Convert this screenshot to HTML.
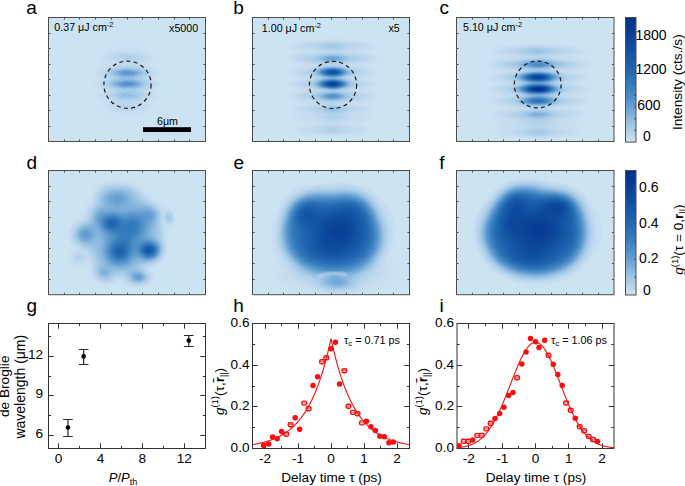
<!DOCTYPE html>
<html><head><meta charset="utf-8"><style>
html,body{margin:0;padding:0;background:#fff;width:685px;height:486px;overflow:hidden}
svg{display:block}
text{font-family:"Liberation Sans",sans-serif;fill:#000}
</style></head><body>
<svg width="685" height="486" viewBox="0 0 685 486">
<defs><filter id="nz" filterUnits="userSpaceOnUse" x="48" y="17" width="158" height="125" color-interpolation-filters="sRGB"><feTurbulence type="fractalNoise" baseFrequency="0.7" numOctaves="2" seed="7"/><feColorMatrix type="matrix" values="0 0 0 0 1  0 0 0 0 1  0 0 0 0 1  2.2 0 0 0 -1.1"/></filter><radialGradient id="gw"><stop offset="0" stop-color="#fff" stop-opacity="1.0000"/><stop offset="0.05" stop-color="#fff" stop-opacity="0.9888"/><stop offset="0.1" stop-color="#fff" stop-opacity="0.9560"/><stop offset="0.15" stop-color="#fff" stop-opacity="0.9037"/><stop offset="0.2" stop-color="#fff" stop-opacity="0.8353"/><stop offset="0.25" stop-color="#fff" stop-opacity="0.7548"/><stop offset="0.3" stop-color="#fff" stop-opacity="0.6670"/><stop offset="0.35" stop-color="#fff" stop-opacity="0.5762"/><stop offset="0.4" stop-color="#fff" stop-opacity="0.4868"/><stop offset="0.45" stop-color="#fff" stop-opacity="0.4020"/><stop offset="0.5" stop-color="#fff" stop-opacity="0.3247"/><stop offset="0.55" stop-color="#fff" stop-opacity="0.2563"/><stop offset="0.6" stop-color="#fff" stop-opacity="0.1979"/><stop offset="0.65" stop-color="#fff" stop-opacity="0.1494"/><stop offset="0.7" stop-color="#fff" stop-opacity="0.1103"/><stop offset="0.75" stop-color="#fff" stop-opacity="0.0796"/><stop offset="0.8" stop-color="#fff" stop-opacity="0.0561"/><stop offset="0.85" stop-color="#fff" stop-opacity="0.0387"/><stop offset="0.9" stop-color="#fff" stop-opacity="0.0261"/><stop offset="0.95" stop-color="#fff" stop-opacity="0.0172"/><stop offset="1" stop-color="#fff" stop-opacity="0.0000"/></radialGradient><radialGradient id="gk"><stop offset="0" stop-color="#000" stop-opacity="1.0000"/><stop offset="0.05" stop-color="#000" stop-opacity="0.9888"/><stop offset="0.1" stop-color="#000" stop-opacity="0.9560"/><stop offset="0.15" stop-color="#000" stop-opacity="0.9037"/><stop offset="0.2" stop-color="#000" stop-opacity="0.8353"/><stop offset="0.25" stop-color="#000" stop-opacity="0.7548"/><stop offset="0.3" stop-color="#000" stop-opacity="0.6670"/><stop offset="0.35" stop-color="#000" stop-opacity="0.5762"/><stop offset="0.4" stop-color="#000" stop-opacity="0.4868"/><stop offset="0.45" stop-color="#000" stop-opacity="0.4020"/><stop offset="0.5" stop-color="#000" stop-opacity="0.3247"/><stop offset="0.55" stop-color="#000" stop-opacity="0.2563"/><stop offset="0.6" stop-color="#000" stop-opacity="0.1979"/><stop offset="0.65" stop-color="#000" stop-opacity="0.1494"/><stop offset="0.7" stop-color="#000" stop-opacity="0.1103"/><stop offset="0.75" stop-color="#000" stop-opacity="0.0796"/><stop offset="0.8" stop-color="#000" stop-opacity="0.0561"/><stop offset="0.85" stop-color="#000" stop-opacity="0.0387"/><stop offset="0.9" stop-color="#000" stop-opacity="0.0261"/><stop offset="0.95" stop-color="#000" stop-opacity="0.0172"/><stop offset="1" stop-color="#000" stop-opacity="0.0000"/></radialGradient><filter id="cm" filterUnits="userSpaceOnUse" x="0" y="0" width="685" height="486" color-interpolation-filters="sRGB"><feComponentTransfer><feFuncR type="table" tableValues="0.93 0.9 0.86 0.83 0.8 0.77 0.73 0.69 0.66 0.62 0.58 0.54 0.49 0.45 0.41 0.37 0.34 0.31 0.28 0.25 0.22 0.2 0.18 0.16 0.15 0.13 0.11 0.1 0.09 0.08 0.07 0.06 0.05 0.05 0.04 0.04 0.03 0.02 0.02 0.01 0.01"/><feFuncG type="table" tableValues="0.96 0.94 0.92 0.9 0.89 0.86 0.84 0.82 0.8 0.78 0.75 0.72 0.69 0.66 0.63 0.6 0.58 0.56 0.54 0.52 0.49 0.48 0.46 0.44 0.42 0.4 0.39 0.37 0.36 0.34 0.33 0.31 0.29 0.28 0.27 0.25 0.24 0.23 0.21 0.2 0.19"/><feFuncB type="table" tableValues="0.98 0.97 0.96 0.95 0.95 0.94 0.93 0.92 0.91 0.9 0.89 0.87 0.86 0.84 0.83 0.81 0.8 0.79 0.77 0.76 0.75 0.74 0.73 0.71 0.7 0.69 0.68 0.67 0.66 0.65 0.64 0.63 0.62 0.61 0.6 0.59 0.58 0.57 0.57 0.56 0.55"/></feComponentTransfer></filter><linearGradient id="cb" x1="0" y1="0" x2="0" y2="1"><stop offset="0" stop-color="#02308c"/><stop offset="0.2" stop-color="#0c489b"/><stop offset="0.4" stop-color="#1e64af"/><stop offset="0.55" stop-color="#377dbe"/><stop offset="0.7" stop-color="#5f9bd0"/><stop offset="0.85" stop-color="#9bc4e4"/><stop offset="1" stop-color="#cde2f1"/></linearGradient><mask id="nzm" maskUnits="userSpaceOnUse" x="48" y="17" width="158" height="125"><ellipse cx="127.5" cy="82" rx="36" ry="42" fill="url(#gw)"/></mask><clipPath id="cla"><rect x="48.5" y="17.5" width="157" height="124"/></clipPath><clipPath id="clb"><rect x="252.5" y="17.5" width="157" height="124"/></clipPath><clipPath id="clc"><rect x="456.5" y="17.5" width="157.5" height="124"/></clipPath><clipPath id="cld"><rect x="48.5" y="170.5" width="157" height="124.2"/></clipPath><clipPath id="cle"><rect x="252.5" y="170.5" width="157" height="124.2"/></clipPath><clipPath id="clf"><rect x="456.5" y="170.5" width="157.5" height="124.2"/></clipPath><clipPath id="cc252"><rect x="252.5" y="323.5" width="157" height="125"/></clipPath><clipPath id="cc457"><rect x="457" y="323.5" width="157" height="125"/></clipPath><filter id="bl1_2" x="-50%" y="-50%" width="200%" height="200%"><feGaussianBlur stdDeviation="1.2"/></filter><filter id="bl1_5" x="-50%" y="-50%" width="200%" height="200%"><feGaussianBlur stdDeviation="1.5"/></filter><filter id="bl4" x="-50%" y="-50%" width="200%" height="200%"><feGaussianBlur stdDeviation="4"/></filter><filter id="bl6_5" x="-50%" y="-50%" width="200%" height="200%"><feGaussianBlur stdDeviation="6.5"/></filter><filter id="bl7" x="-50%" y="-50%" width="200%" height="200%"><feGaussianBlur stdDeviation="7"/></filter></defs>
<g clip-path="url(#cla)"><g filter="url(#cm)">
<rect x="43.5" y="12.5" width="167" height="134" fill="rgb(25,25,25)"/>
<ellipse cx="127.5" cy="82" rx="39" ry="51" fill="url(#gw)" opacity="0.05"/>
<ellipse cx="127.5" cy="57" rx="36" ry="9.3" fill="url(#gw)" opacity="0.07"/>
<ellipse cx="127.5" cy="72.9" rx="36" ry="9.3" fill="url(#gw)" opacity="0.28"/>
<ellipse cx="127.5" cy="84" rx="36" ry="9.3" fill="url(#gw)" opacity="0.3"/>
<ellipse cx="127.5" cy="95.5" rx="36" ry="9.3" fill="url(#gw)" opacity="0.13"/>
<ellipse cx="127.5" cy="107" rx="36" ry="9.3" fill="url(#gw)" opacity="0.05"/>
<rect x="48" y="17" width="158" height="125" filter="url(#nz)" opacity="0.025"/>
<rect x="48" y="17" width="158" height="125" filter="url(#nz)" opacity="0.16" mask="url(#nzm)"/>
</g></g>
<path d="M64.5 17.5v2M64.5 141.5v-2M79.5 17.5v2M79.5 141.5v-2M95.5 17.5v2M95.5 141.5v-2M111.5 17.5v2M111.5 141.5v-2M127.5 17.5v2M127.5 141.5v-2M142.5 17.5v2M142.5 141.5v-2M158.5 17.5v2M158.5 141.5v-2M174.5 17.5v2M174.5 141.5v-2M189.5 17.5v2M189.5 141.5v-2M48.5 126.5h2M205.5 126.5h-2M48.5 110.5h2M205.5 110.5h-2M48.5 95.5h2M205.5 95.5h-2M48.5 79.5h2M205.5 79.5h-2M48.5 64.5h2M205.5 64.5h-2M48.5 48.5h2M205.5 48.5h-2M48.5 33.5h2M205.5 33.5h-2" stroke="#4d4d4d" stroke-width="1.0" fill="none"/>
<rect x="48.5" y="17.5" width="157" height="124" fill="none" stroke="#4d4d4d" stroke-width="1.0"/>
<circle cx="127.5" cy="84.7" r="23.6" fill="none" stroke="#1a1a1a" stroke-width="1.2" stroke-dasharray="4 3.3"/>
<g clip-path="url(#clb)"><g filter="url(#cm)">
<rect x="247.5" y="12.5" width="167" height="134" fill="rgb(25,25,25)"/>
<ellipse cx="332.5" cy="46.3" rx="54" ry="10.2" fill="url(#gw)" opacity="0.09"/>
<ellipse cx="304.5" cy="46.3" rx="24" ry="9.6" fill="url(#gw)" opacity="0.02"/>
<ellipse cx="360.5" cy="46.3" rx="24" ry="9.6" fill="url(#gw)" opacity="0.02"/>
<ellipse cx="332.5" cy="46.3" rx="24.6" ry="8.7" fill="url(#gw)" opacity="0.05"/>
<ellipse cx="332.5" cy="58.6" rx="54" ry="10.2" fill="url(#gw)" opacity="0.16"/>
<ellipse cx="304.5" cy="58.6" rx="24" ry="9.6" fill="url(#gw)" opacity="0.03"/>
<ellipse cx="360.5" cy="58.6" rx="24" ry="9.6" fill="url(#gw)" opacity="0.03"/>
<ellipse cx="332.5" cy="58.6" rx="24.6" ry="8.7" fill="url(#gw)" opacity="0.14"/>
<ellipse cx="332.5" cy="72.2" rx="54" ry="10.2" fill="url(#gw)" opacity="0.13"/>
<ellipse cx="304.5" cy="72.2" rx="24" ry="9.6" fill="url(#gw)" opacity="0.03"/>
<ellipse cx="360.5" cy="72.2" rx="24" ry="9.6" fill="url(#gw)" opacity="0.03"/>
<ellipse cx="332.5" cy="72.2" rx="24.6" ry="8.7" fill="url(#gw)" opacity="0.72"/>
<ellipse cx="332.5" cy="84" rx="54" ry="10.2" fill="url(#gw)" opacity="0.13"/>
<ellipse cx="304.5" cy="84" rx="24" ry="9.6" fill="url(#gw)" opacity="0.03"/>
<ellipse cx="360.5" cy="84" rx="24" ry="9.6" fill="url(#gw)" opacity="0.03"/>
<ellipse cx="332.5" cy="84" rx="24.6" ry="8.7" fill="url(#gw)" opacity="0.86"/>
<ellipse cx="332.5" cy="96.3" rx="54" ry="10.2" fill="url(#gw)" opacity="0.13"/>
<ellipse cx="304.5" cy="96.3" rx="24" ry="9.6" fill="url(#gw)" opacity="0.03"/>
<ellipse cx="360.5" cy="96.3" rx="24" ry="9.6" fill="url(#gw)" opacity="0.03"/>
<ellipse cx="332.5" cy="96.3" rx="24.6" ry="8.7" fill="url(#gw)" opacity="0.25"/>
<ellipse cx="332.5" cy="109" rx="54" ry="10.2" fill="url(#gw)" opacity="0.08"/>
<ellipse cx="304.5" cy="109" rx="24" ry="9.6" fill="url(#gw)" opacity="0.02"/>
<ellipse cx="360.5" cy="109" rx="24" ry="9.6" fill="url(#gw)" opacity="0.02"/>
<ellipse cx="332.5" cy="109" rx="24.6" ry="8.7" fill="url(#gw)" opacity="0.1"/>
<ellipse cx="332.5" cy="118" rx="54" ry="10.2" fill="url(#gw)" opacity="0.04"/>
<ellipse cx="304.5" cy="118" rx="24" ry="9.6" fill="url(#gw)" opacity="0.01"/>
<ellipse cx="360.5" cy="118" rx="24" ry="9.6" fill="url(#gw)" opacity="0.01"/>
<ellipse cx="332.5" cy="118" rx="24.6" ry="8.7" fill="url(#gw)" opacity="0.04"/>
<ellipse cx="332.5" cy="129.6" rx="54" ry="10.2" fill="url(#gw)" opacity="0.05"/>
<ellipse cx="304.5" cy="129.6" rx="24" ry="9.6" fill="url(#gw)" opacity="0.01"/>
<ellipse cx="360.5" cy="129.6" rx="24" ry="9.6" fill="url(#gw)" opacity="0.01"/>
<ellipse cx="332.5" cy="129.6" rx="24.6" ry="8.7" fill="url(#gw)" opacity="0.05"/>
</g></g>
<path d="M268.5 17.5v2M268.5 141.5v-2M283.5 17.5v2M283.5 141.5v-2M299.5 17.5v2M299.5 141.5v-2M315.5 17.5v2M315.5 141.5v-2M331.5 17.5v2M331.5 141.5v-2M346.5 17.5v2M346.5 141.5v-2M362.5 17.5v2M362.5 141.5v-2M378.5 17.5v2M378.5 141.5v-2M393.5 17.5v2M393.5 141.5v-2M252.5 126.5h2M409.5 126.5h-2M252.5 110.5h2M409.5 110.5h-2M252.5 95.5h2M409.5 95.5h-2M252.5 79.5h2M409.5 79.5h-2M252.5 64.5h2M409.5 64.5h-2M252.5 48.5h2M409.5 48.5h-2M252.5 33.5h2M409.5 33.5h-2" stroke="#4d4d4d" stroke-width="1.0" fill="none"/>
<rect x="252.5" y="17.5" width="157" height="124" fill="none" stroke="#4d4d4d" stroke-width="1.0"/>
<circle cx="333" cy="84.9" r="23.6" fill="none" stroke="#1a1a1a" stroke-width="1.2" stroke-dasharray="4 3.3"/>
<g clip-path="url(#clc)"><g filter="url(#cm)">
<rect x="451.5" y="12.5" width="167.5" height="134" fill="rgb(25,25,25)"/>
<ellipse cx="538" cy="51.3" rx="60" ry="10.2" fill="url(#gw)" opacity="0.1"/>
<ellipse cx="507" cy="51.3" rx="27" ry="9.6" fill="url(#gw)" opacity="0.02"/>
<ellipse cx="569" cy="51.3" rx="27" ry="9.6" fill="url(#gw)" opacity="0.02"/>
<ellipse cx="538" cy="51.3" rx="30" ry="9" fill="url(#gw)" opacity="0.06"/>
<ellipse cx="538" cy="64.4" rx="60" ry="10.2" fill="url(#gw)" opacity="0.18"/>
<ellipse cx="507" cy="64.4" rx="27" ry="9.6" fill="url(#gw)" opacity="0.04"/>
<ellipse cx="569" cy="64.4" rx="27" ry="9.6" fill="url(#gw)" opacity="0.04"/>
<ellipse cx="538" cy="64.4" rx="30" ry="9" fill="url(#gw)" opacity="0.25"/>
<ellipse cx="538" cy="77.3" rx="60" ry="10.2" fill="url(#gw)" opacity="0.15"/>
<ellipse cx="507" cy="77.3" rx="27" ry="9.6" fill="url(#gw)" opacity="0.03"/>
<ellipse cx="569" cy="77.3" rx="27" ry="9.6" fill="url(#gw)" opacity="0.03"/>
<ellipse cx="538" cy="77.3" rx="30" ry="9" fill="url(#gw)" opacity="0.85"/>
<ellipse cx="538" cy="89" rx="60" ry="10.2" fill="url(#gw)" opacity="0.15"/>
<ellipse cx="507" cy="89" rx="27" ry="9.6" fill="url(#gw)" opacity="0.03"/>
<ellipse cx="569" cy="89" rx="27" ry="9.6" fill="url(#gw)" opacity="0.03"/>
<ellipse cx="538" cy="89" rx="30" ry="9" fill="url(#gw)" opacity="1"/>
<ellipse cx="538" cy="100.8" rx="60" ry="10.2" fill="url(#gw)" opacity="0.14"/>
<ellipse cx="507" cy="100.8" rx="27" ry="9.6" fill="url(#gw)" opacity="0.03"/>
<ellipse cx="569" cy="100.8" rx="27" ry="9.6" fill="url(#gw)" opacity="0.03"/>
<ellipse cx="538" cy="100.8" rx="30" ry="9" fill="url(#gw)" opacity="0.45"/>
<ellipse cx="538" cy="114.4" rx="60" ry="10.2" fill="url(#gw)" opacity="0.1"/>
<ellipse cx="507" cy="114.4" rx="27" ry="9.6" fill="url(#gw)" opacity="0.02"/>
<ellipse cx="569" cy="114.4" rx="27" ry="9.6" fill="url(#gw)" opacity="0.02"/>
<ellipse cx="538" cy="114.4" rx="30" ry="9" fill="url(#gw)" opacity="0.14"/>
<ellipse cx="538" cy="123.4" rx="60" ry="10.2" fill="url(#gw)" opacity="0.04"/>
<ellipse cx="507" cy="123.4" rx="27" ry="9.6" fill="url(#gw)" opacity="0.01"/>
<ellipse cx="569" cy="123.4" rx="27" ry="9.6" fill="url(#gw)" opacity="0.01"/>
<ellipse cx="538" cy="123.4" rx="30" ry="9" fill="url(#gw)" opacity="0.04"/>
<ellipse cx="538" cy="132.4" rx="60" ry="10.2" fill="url(#gw)" opacity="0.06"/>
<ellipse cx="507" cy="132.4" rx="27" ry="9.6" fill="url(#gw)" opacity="0.01"/>
<ellipse cx="569" cy="132.4" rx="27" ry="9.6" fill="url(#gw)" opacity="0.01"/>
<ellipse cx="538" cy="132.4" rx="30" ry="9" fill="url(#gw)" opacity="0.07"/>
</g></g>
<path d="M472.5 17.5v2M472.5 141.5v-2M488.5 17.5v2M488.5 141.5v-2M503.5 17.5v2M503.5 141.5v-2M519.5 17.5v2M519.5 141.5v-2M535.5 17.5v2M535.5 141.5v-2M551.5 17.5v2M551.5 141.5v-2M566.5 17.5v2M566.5 141.5v-2M582.5 17.5v2M582.5 141.5v-2M598.5 17.5v2M598.5 141.5v-2M456.5 126.5h2M614 126.5h-2M456.5 110.5h2M614 110.5h-2M456.5 95.5h2M614 95.5h-2M456.5 79.5h2M614 79.5h-2M456.5 64.5h2M614 64.5h-2M456.5 48.5h2M614 48.5h-2M456.5 33.5h2M614 33.5h-2" stroke="#4d4d4d" stroke-width="1.0" fill="none"/>
<rect x="456.5" y="17.5" width="157.5" height="124" fill="none" stroke="#4d4d4d" stroke-width="1.0"/>
<circle cx="537.7" cy="84.5" r="23.4" fill="none" stroke="#1a1a1a" stroke-width="1.2" stroke-dasharray="4 3.3"/>
<g clip-path="url(#cld)"><g filter="url(#cm)">
<rect x="43.5" y="165.5" width="167" height="134.2" fill="rgb(25,25,25)"/>
<path d="M100 191C103.17 187 110.5 187.33 116 187C121.5 186.67 127 185.67 133 189C139 192.33 147.5 201.5 152 207C156.5 212.5 158.33 216.17 160 222C161.67 227.83 162.17 236.33 162 242C161.83 247.67 161.33 252.33 159 256C156.67 259.67 151.17 261.5 148 264C144.83 266.5 140.83 268.17 140 271C139.17 273.83 144.67 279.33 143 281C141.33 282.67 133.83 282.33 130 281C126.17 279.67 123.67 273 120 273C116.33 273 111.67 280.5 108 281C104.33 281.5 100.17 278.83 98 276C95.83 273.17 96.67 268.67 95 264C93.33 259.33 91.17 251.83 88 248C84.83 244.17 77.83 244.33 76 241C74.17 237.67 75 231.17 77 228C79 224.83 84.67 224.83 88 222C91.33 219.17 95 216.17 97 211C99 205.83 96.83 195 100 191Z" fill="#fff" opacity="0.15" filter="url(#bl4)"/>
<ellipse cx="169" cy="217.5" rx="6.5" ry="8.5" fill="none" stroke="#000" stroke-width="1.5" opacity="0.35" filter="url(#bl1_2)"/>
<ellipse cx="125.2" cy="237" rx="36" ry="33" fill="url(#gw)" opacity="0.27"/>
<ellipse cx="117" cy="199" rx="27" ry="19.5" fill="url(#gw)" opacity="0.16"/>
<ellipse cx="111.4" cy="223" rx="22.5" ry="19.5" fill="url(#gw)" opacity="0.5"/>
<ellipse cx="85.4" cy="234.3" rx="19.5" ry="19.5" fill="url(#gw)" opacity="0.18"/>
<ellipse cx="79" cy="257.5" rx="13.5" ry="13.5" fill="url(#gw)" opacity="0.08"/>
<ellipse cx="134" cy="224" rx="27" ry="27" fill="url(#gw)" opacity="0.3"/>
<ellipse cx="151" cy="214" rx="21" ry="18" fill="url(#gw)" opacity="0.15"/>
<ellipse cx="119.3" cy="252.4" rx="25.5" ry="24" fill="url(#gw)" opacity="0.5"/>
<ellipse cx="148.8" cy="250.2" rx="19.5" ry="16.5" fill="url(#gw)" opacity="0.65"/>
<ellipse cx="139.7" cy="277.4" rx="18" ry="12" fill="url(#gw)" opacity="0.22"/>
<ellipse cx="103" cy="273" rx="15" ry="12" fill="url(#gw)" opacity="0.1"/>
<ellipse cx="169" cy="217.4" rx="10.5" ry="15" fill="url(#gw)" opacity="0.12"/>
<ellipse cx="97" cy="214" rx="18" ry="18" fill="url(#gw)" opacity="0.12"/>
</g></g>
<path d="M64.5 170.5v2M64.5 294.7v-2M79.5 170.5v2M79.5 294.7v-2M95.5 170.5v2M95.5 294.7v-2M111.5 170.5v2M111.5 294.7v-2M127.5 170.5v2M127.5 294.7v-2M142.5 170.5v2M142.5 294.7v-2M158.5 170.5v2M158.5 294.7v-2M174.5 170.5v2M174.5 294.7v-2M189.5 170.5v2M189.5 294.7v-2M48.5 279.5h2M205.5 279.5h-2M48.5 263.5h2M205.5 263.5h-2M48.5 248.5h2M205.5 248.5h-2M48.5 232.5h2M205.5 232.5h-2M48.5 217.5h2M205.5 217.5h-2M48.5 201.5h2M205.5 201.5h-2M48.5 186.5h2M205.5 186.5h-2" stroke="#4d4d4d" stroke-width="1.0" fill="none"/>
<rect x="48.5" y="170.5" width="157" height="124.2" fill="none" stroke="#4d4d4d" stroke-width="1.0"/>
<g clip-path="url(#cle)"><g filter="url(#cm)">
<rect x="247.5" y="165.5" width="167" height="134.2" fill="rgb(25,25,25)"/>
<path d="M284 232C284.17 227.33 285.83 222.5 288 218C290.17 213.5 293.67 208.33 297 205C300.33 201.67 303.83 199.58 308 198C312.17 196.42 317.67 195.75 322 195.5C326.33 195.25 330.17 196.58 334 196.5C337.83 196.42 341.17 195 345 195C348.83 195 353.5 195.17 357 196.5C360.5 197.83 363.33 199.92 366 203C368.67 206.08 370.83 210.17 373 215C375.17 219.83 378.33 226.5 379 232C379.67 237.5 378.33 243.5 377 248C375.67 252.5 373.67 256 371 259C368.33 262 365.33 264.25 361 266C356.67 267.75 351 268.92 345 269.5C339 270.08 331.5 270.08 325 269.5C318.5 268.92 311.17 268.08 306 266C300.83 263.92 297.17 260.33 294 257C290.83 253.67 288.67 250.17 287 246C285.33 241.83 283.83 236.67 284 232Z" fill="#fff" opacity="0.45" filter="url(#bl7)"/>
<ellipse cx="335" cy="272" rx="78" ry="27" fill="url(#gw)" opacity="0.14"/>
<path d="M318 277Q332 270.5 347 275" stroke="#000" stroke-width="2.8" fill="none" opacity="0.6" filter="url(#bl1_5)"/>
<ellipse cx="338" cy="230" rx="60" ry="48" fill="url(#gw)" opacity="0.75"/>
<ellipse cx="306" cy="214" rx="30" ry="30" fill="url(#gw)" opacity="0.4"/>
<ellipse cx="330" cy="249" rx="60" ry="30" fill="url(#gw)" opacity="0.35"/>
<ellipse cx="352" cy="212" rx="30" ry="24" fill="url(#gw)" opacity="0.2"/>
<ellipse cx="337" cy="283.5" rx="33" ry="13.5" fill="url(#gw)" opacity="0.2"/>
</g></g>
<path d="M268.5 170.5v2M268.5 294.7v-2M283.5 170.5v2M283.5 294.7v-2M299.5 170.5v2M299.5 294.7v-2M315.5 170.5v2M315.5 294.7v-2M331.5 170.5v2M331.5 294.7v-2M346.5 170.5v2M346.5 294.7v-2M362.5 170.5v2M362.5 294.7v-2M378.5 170.5v2M378.5 294.7v-2M393.5 170.5v2M393.5 294.7v-2M252.5 279.5h2M409.5 279.5h-2M252.5 263.5h2M409.5 263.5h-2M252.5 248.5h2M409.5 248.5h-2M252.5 232.5h2M409.5 232.5h-2M252.5 217.5h2M409.5 217.5h-2M252.5 201.5h2M409.5 201.5h-2M252.5 186.5h2M409.5 186.5h-2" stroke="#4d4d4d" stroke-width="1.0" fill="none"/>
<rect x="252.5" y="170.5" width="157" height="124.2" fill="none" stroke="#4d4d4d" stroke-width="1.0"/>
<g clip-path="url(#clf)"><g filter="url(#cm)">
<rect x="451.5" y="165.5" width="167.5" height="134.2" fill="rgb(25,25,25)"/>
<path d="M485 234C485 230 486.33 225.33 488 221C489.67 216.67 492.33 211.83 495 208C497.67 204.17 500.67 200.83 504 198C507.33 195.17 511 192.5 515 191C519 189.5 524 189 528 189C532 189 535.83 190 539 191C542.17 192 543.83 194.17 547 195C550.17 195.83 554.33 195.17 558 196C561.67 196.83 565.67 197.67 569 200C572.33 202.33 575.67 205.83 578 210C580.33 214.17 582.33 219.17 583 225C583.67 230.83 583.33 239.5 582 245C580.67 250.5 578 254.33 575 258C572 261.67 569 264.5 564 267C559 269.5 551.5 272 545 273C538.5 274 531.5 274.17 525 273C518.5 271.83 511.17 268.83 506 266C500.83 263.17 497 259.5 494 256C491 252.5 489.5 248.67 488 245C486.5 241.33 485 238 485 234Z" fill="#fff" opacity="0.5" filter="url(#bl6_5)"/>
<ellipse cx="538" cy="230" rx="66" ry="51" fill="url(#gw)" opacity="0.8"/>
<ellipse cx="516" cy="205" rx="27" ry="27" fill="url(#gw)" opacity="0.4"/>
<ellipse cx="511" cy="224" rx="24" ry="30" fill="url(#gw)" opacity="0.35"/>
<ellipse cx="557" cy="207" rx="33" ry="24" fill="url(#gw)" opacity="0.55"/>
<ellipse cx="530" cy="255" rx="48" ry="27" fill="url(#gw)" opacity="0.35"/>
</g></g>
<path d="M472.5 170.5v2M472.5 294.7v-2M488.5 170.5v2M488.5 294.7v-2M503.5 170.5v2M503.5 294.7v-2M519.5 170.5v2M519.5 294.7v-2M535.5 170.5v2M535.5 294.7v-2M551.5 170.5v2M551.5 294.7v-2M566.5 170.5v2M566.5 294.7v-2M582.5 170.5v2M582.5 294.7v-2M598.5 170.5v2M598.5 294.7v-2M456.5 279.5h2M614 279.5h-2M456.5 263.5h2M614 263.5h-2M456.5 248.5h2M614 248.5h-2M456.5 232.5h2M614 232.5h-2M456.5 217.5h2M614 217.5h-2M456.5 201.5h2M614 201.5h-2M456.5 186.5h2M614 186.5h-2" stroke="#4d4d4d" stroke-width="1.0" fill="none"/>
<rect x="456.5" y="170.5" width="157.5" height="124.2" fill="none" stroke="#4d4d4d" stroke-width="1.0"/>
<rect x="625.5" y="17.5" width="10.5" height="124.6" fill="url(#cb)" stroke="#4d4d4d" stroke-width="1"/>
<path d="M636 130.4h-2M636 118.7h-2M636 107h-2M636 95.3h-2M636 83.6h-2M636 71.9h-2M636 60.2h-2M636 48.5h-2M636 36.8h-2M636 25.1h-2" stroke="#4d4d4d" stroke-width="1"/>
<rect x="625.5" y="170.5" width="10.5" height="124.5" fill="url(#cb)" stroke="#4d4d4d" stroke-width="1"/>
<path d="M636 277.2h-2M636 259.4h-2M636 241.6h-2M636 223.8h-2M636 206h-2M636 188.2h-2" stroke="#4d4d4d" stroke-width="1"/>
<text x="54.3" y="31.4" font-size="10.7" text-anchor="start" >0.37 μJ cm<tspan font-size="7.5" dy="-4">-2</tspan></text>
<text x="198.2" y="31.6" font-size="10.7" text-anchor="end" >x5000</text>
<text x="261.8" y="31.7" font-size="10.7" text-anchor="start" >1.00 μJ cm<tspan font-size="7.5" dy="-4">-2</tspan></text>
<text x="399.7" y="31.7" font-size="10.7" text-anchor="end" >x5</text>
<text x="463" y="31.4" font-size="10.7" text-anchor="start" >5.10 μJ cm<tspan font-size="7.5" dy="-4">-2</tspan></text>
<rect x="143" y="127.2" width="48" height="4.8" fill="#000"/>
<text x="167.5" y="124.5" font-size="10.7" text-anchor="middle" >6μm</text>
<text x="26.3" y="14.1" font-size="19" text-anchor="start" >a</text>
<text x="233.3" y="13.9" font-size="19" text-anchor="start" >b</text>
<text x="439.5" y="13.9" font-size="19" text-anchor="start" >c</text>
<text x="26.6" y="168.6" font-size="19" text-anchor="start" >d</text>
<text x="233.6" y="168.6" font-size="19" text-anchor="start" >e</text>
<text x="439.3" y="168.6" font-size="19" text-anchor="start" >f</text>
<text x="26.6" y="311.8" font-size="19" text-anchor="start" >g</text>
<text x="233.2" y="311.8" font-size="19" text-anchor="start" >h</text>
<text x="439.6" y="311.8" font-size="19" text-anchor="start" >i</text>
<text x="635.5" y="39.7" font-size="14" text-anchor="start" >1800</text>
<text x="635.5" y="74.4" font-size="14" text-anchor="start" >1200</text>
<text x="637.2" y="109.7" font-size="14" text-anchor="start" >600</text>
<text x="642.9" y="141.1" font-size="14" text-anchor="start" >0</text>
<text x="639.1" y="191.5" font-size="14" text-anchor="start" >0.6</text>
<text x="639.1" y="227.6" font-size="14" text-anchor="start" >0.4</text>
<text x="639.1" y="263.4" font-size="14" text-anchor="start" >0.2</text>
<text x="643.1" y="295.3" font-size="14" text-anchor="start" >0</text>
<text x="0" y="0" font-size="13.7" text-anchor="middle" transform="translate(681.5 82.2) rotate(-90)">Intensity (cts./s)</text>
<text x="0" y="0" font-size="13.6" text-anchor="middle" transform="translate(683.3 239.6) rotate(-90)"><tspan font-style="italic">g</tspan><tspan font-size="9.5" dy="-5.5">(1)</tspan><tspan dy="5.5">(τ = 0,</tspan><tspan font-weight="bold">r</tspan><tspan font-size="9" dy="3">||</tspan><tspan dy="-3">)</tspan></text>
<path d="M58.5 448.5v-5.2M58.5 323.5v5.2M100.5 448.5v-5.2M100.5 323.5v5.2M142.5 448.5v-5.2M142.5 323.5v5.2M184.5 448.5v-5.2M184.5 323.5v5.2M79.5 448.5v-2.6M79.5 323.5v2.6M121.5 448.5v-2.6M121.5 323.5v2.6M163.5 448.5v-2.6M163.5 323.5v2.6M48.5 435.5h5.2M205.5 435.5h-5.2M48.5 395.5h5.2M205.5 395.5h-5.2M48.5 356.5h5.2M205.5 356.5h-5.2M48.5 415.5h2.6M205.5 415.5h-2.6M48.5 376.5h2.6M205.5 376.5h-2.6M48.5 336.5h2.6M205.5 336.5h-2.6" stroke="#333" stroke-width="1" fill="none"/>
<rect x="48.5" y="323.5" width="157" height="125" fill="none" stroke="#333" stroke-width="1"/>
<text x="58.5" y="463.1" font-size="13.6" text-anchor="middle" >0</text>
<text x="100.42" y="463.1" font-size="13.6" text-anchor="middle" >4</text>
<text x="142.34" y="463.1" font-size="13.6" text-anchor="middle" >8</text>
<text x="184.26" y="463.1" font-size="13.6" text-anchor="middle" >12</text>
<text x="43" y="437.84" font-size="13.6" text-anchor="end" >6</text>
<text x="43" y="398.36" font-size="13.6" text-anchor="end" >9</text>
<text x="43" y="358.88" font-size="13.6" text-anchor="end" >12</text>
<path d="M67.93 419.5V436.5M63.13 419.5h9.6M63.13 436.5h9.6" stroke="#262626" stroke-width="1.2" fill="none"/>
<circle cx="67.93" cy="427.44" r="2.3" fill="#000"/>
<path d="M83.65 349.5V364.5M78.85 349.5h9.6M78.85 364.5h9.6" stroke="#262626" stroke-width="1.2" fill="none"/>
<circle cx="83.65" cy="356.38" r="2.3" fill="#000"/>
<path d="M188.77 335.5V346.5M183.97 335.5h9.6M183.97 346.5h9.6" stroke="#262626" stroke-width="1.2" fill="none"/>
<circle cx="188.77" cy="340.59" r="2.3" fill="#000"/>
<text x="0" y="0" font-size="13.7" text-anchor="middle" transform="translate(9.3 386.3) rotate(-90)">de Broglie</text>
<text x="0" y="0" font-size="14" text-anchor="middle" transform="translate(24.5 386.7) rotate(-90)">wavelength (μm)</text>
<text x="123" y="482.3" font-size="13" text-anchor="middle" ><tspan font-style="italic">P</tspan>/<tspan font-style="italic">P</tspan><tspan font-size="9" dy="3">th</tspan></text>
<path d="M265.5 448.5v-5.2M265.5 323.5v5.2M298.5 448.5v-5.2M298.5 323.5v5.2M331.5 448.5v-5.2M331.5 323.5v5.2M364.5 448.5v-5.2M364.5 323.5v5.2M397.5 448.5v-5.2M397.5 323.5v5.2M281.5 448.5v-2.6M281.5 323.5v2.6M314.5 448.5v-2.6M314.5 323.5v2.6M347.5 448.5v-2.6M347.5 323.5v2.6M380.5 448.5v-2.6M380.5 323.5v2.6M252.5 448.5h5.2M409.5 448.5h-5.2M252.5 406.5h5.2M409.5 406.5h-5.2M252.5 365.5h5.2M409.5 365.5h-5.2M252.5 323.5h5.2M409.5 323.5h-5.2M252.5 427.5h2.6M409.5 427.5h-2.6M252.5 386.5h2.6M409.5 386.5h-2.6M252.5 344.5h2.6M409.5 344.5h-2.6" stroke="#333" stroke-width="1" fill="none"/>
<rect x="252.5" y="323.5" width="157" height="125" fill="none" stroke="#333" stroke-width="1"/>
<text x="265" y="463.2" font-size="13.6" text-anchor="middle" >-2</text>
<text x="298" y="463.2" font-size="13.6" text-anchor="middle" >-1</text>
<text x="331" y="463.2" font-size="13.6" text-anchor="middle" >0</text>
<text x="364" y="463.2" font-size="13.6" text-anchor="middle" >1</text>
<text x="397" y="463.2" font-size="13.6" text-anchor="middle" >2</text>
<text x="249.5" y="451.9" font-size="13.6" text-anchor="end" >0.0</text>
<text x="249.5" y="410.24" font-size="13.6" text-anchor="end" >0.2</text>
<text x="249.5" y="368.58" font-size="13.6" text-anchor="end" >0.4</text>
<text x="249.5" y="326.92" font-size="13.6" text-anchor="end" >0.6</text>
<text x="331.5" y="482.2" font-size="13.6" text-anchor="middle" >Delay time τ (ps)</text>
<g clip-path="url(#cc252)">
<polyline points="251.8,444.76 252.46,444.65 253.12,444.54 253.78,444.43 254.44,444.31 255.1,444.19 255.76,444.07 256.42,443.94 257.08,443.81 257.74,443.68 258.4,443.54 259.06,443.4 259.72,443.25 260.38,443.1 261.04,442.95 261.7,442.79 262.36,442.62 263.02,442.46 263.68,442.28 264.34,442.11 265,441.92 265.66,441.74 266.32,441.54 266.98,441.34 267.64,441.14 268.3,440.93 268.96,440.71 269.62,440.49 270.28,440.26 270.94,440.03 271.6,439.78 272.26,439.54 272.92,439.28 273.58,439.02 274.24,438.74 274.9,438.47 275.56,438.18 276.22,437.88 276.88,437.58 277.54,437.27 278.2,436.95 278.86,436.62 279.52,436.28 280.18,435.93 280.84,435.57 281.5,435.2 282.16,434.82 282.82,434.43 283.48,434.03 284.14,433.62 284.8,433.19 285.46,432.75 286.12,432.3 286.78,431.84 287.44,431.36 288.1,430.87 288.76,430.37 289.42,429.85 290.08,429.32 290.74,428.77 291.4,428.21 292.06,427.63 292.72,427.03 293.38,426.42 294.04,425.79 294.7,425.14 295.36,424.47 296.02,423.79 296.68,423.08 297.34,422.35 298,421.61 298.66,420.84 299.32,420.05 299.98,419.24 300.64,418.4 301.3,417.54 301.96,416.65 302.62,415.75 303.28,414.81 303.94,413.85 304.6,412.86 305.26,411.84 305.92,410.79 306.58,409.71 307.24,408.61 307.9,407.47 308.56,406.29 309.22,405.09 309.88,403.85 310.54,402.57 311.2,401.26 311.86,399.91 312.52,398.52 313.18,397.09 313.84,395.63 314.5,394.11 315.16,392.56 315.82,390.96 316.48,389.32 317.14,387.63 317.8,385.89 318.46,384.1 319.12,382.26 319.78,380.37 320.44,378.42 321.1,376.42 321.76,374.36 322.42,372.24 323.08,370.06 323.74,367.82 324.4,365.52 325.06,363.15 325.72,360.71 326.38,358.2 327.04,355.62 327.7,352.97 328.36,350.24 329.02,347.43 329.68,344.54 330.34,341.57 331,338.52 331.66,341.57 332.32,344.54 332.98,347.43 333.64,350.24 334.3,352.97 334.96,355.62 335.62,358.2 336.28,360.71 336.94,363.15 337.6,365.52 338.26,367.82 338.92,370.06 339.58,372.24 340.24,374.36 340.9,376.42 341.56,378.42 342.22,380.37 342.88,382.26 343.54,384.1 344.2,385.89 344.86,387.63 345.52,389.32 346.18,390.96 346.84,392.56 347.5,394.11 348.16,395.63 348.82,397.09 349.48,398.52 350.14,399.91 350.8,401.26 351.46,402.57 352.12,403.85 352.78,405.09 353.44,406.29 354.1,407.47 354.76,408.61 355.42,409.71 356.08,410.79 356.74,411.84 357.4,412.86 358.06,413.85 358.72,414.81 359.38,415.75 360.04,416.65 360.7,417.54 361.36,418.4 362.02,419.24 362.68,420.05 363.34,420.84 364,421.61 364.66,422.35 365.32,423.08 365.98,423.79 366.64,424.47 367.3,425.14 367.96,425.79 368.62,426.42 369.28,427.03 369.94,427.63 370.6,428.21 371.26,428.77 371.92,429.32 372.58,429.85 373.24,430.37 373.9,430.87 374.56,431.36 375.22,431.84 375.88,432.3 376.54,432.75 377.2,433.19 377.86,433.62 378.52,434.03 379.18,434.43 379.84,434.82 380.5,435.2 381.16,435.57 381.82,435.93 382.48,436.28 383.14,436.62 383.8,436.95 384.46,437.27 385.12,437.58 385.78,437.88 386.44,438.18 387.1,438.47 387.76,438.74 388.42,439.02 389.08,439.28 389.74,439.54 390.4,439.78 391.06,440.03 391.72,440.26 392.38,440.49 393.04,440.71 393.7,440.93 394.36,441.14 395.02,441.34 395.68,441.54 396.34,441.74 397,441.92 397.66,442.11 398.32,442.28 398.98,442.46 399.64,442.62 400.3,442.79 400.96,442.95 401.62,443.1 402.28,443.25 402.94,443.4 403.6,443.54 404.26,443.68 404.92,443.81 405.58,443.94 406.24,444.07 406.9,444.19 407.56,444.31 408.22,444.43 408.88,444.54 409.54,444.65 410.2,444.76" fill="none" stroke="#fb0d0d" stroke-width="1.1"/>
<circle cx="263.6" cy="445.4" r="2.75" fill="#fb0d0d"/>
<circle cx="268.7" cy="443.9" r="2.75" fill="#fb0d0d"/>
<circle cx="272.6" cy="437" r="2.75" fill="#fb0d0d"/>
<circle cx="277.2" cy="438.8" r="2.75" fill="#fb0d0d"/>
<circle cx="281.6" cy="431.6" r="2.75" fill="#fb0d0d"/>
<rect x="283.8" y="432.2" width="4.8" height="4" rx="1.6" fill="none" stroke="#fb0d0d" stroke-width="1.4"/><path d="M284.2 434.1h4" stroke="#fb0d0d" stroke-width="0.7"/>
<rect x="288.2" y="422.7" width="4.8" height="4" rx="1.6" fill="none" stroke="#fb0d0d" stroke-width="1.4"/><path d="M288.6 424.6h4" stroke="#fb0d0d" stroke-width="0.7"/>
<circle cx="295.2" cy="417.7" r="2.75" fill="#fb0d0d"/>
<circle cx="299.6" cy="429.2" r="2.75" fill="#fb0d0d"/>
<rect x="301.8" y="401.1" width="4.8" height="4" rx="1.6" fill="none" stroke="#fb0d0d" stroke-width="1.4"/><path d="M302.2 403h4" stroke="#fb0d0d" stroke-width="0.7"/>
<rect x="306.2" y="406.8" width="4.8" height="4" rx="1.6" fill="none" stroke="#fb0d0d" stroke-width="1.4"/><path d="M306.6 408.7h4" stroke="#fb0d0d" stroke-width="0.7"/>
<circle cx="313" cy="385.5" r="2.75" fill="#fb0d0d"/>
<circle cx="317.6" cy="376.8" r="2.75" fill="#fb0d0d"/>
<rect x="319.6" y="359.7" width="4.8" height="4" rx="1.6" fill="none" stroke="#fb0d0d" stroke-width="1.4"/><path d="M320 361.6h4" stroke="#fb0d0d" stroke-width="0.7"/>
<rect x="323.9" y="355.8" width="4.8" height="4" rx="1.6" fill="none" stroke="#fb0d0d" stroke-width="1.4"/><path d="M324.3 357.7h4" stroke="#fb0d0d" stroke-width="0.7"/>
<circle cx="331" cy="348.7" r="2.75" fill="#fb0d0d"/>
<circle cx="335.4" cy="342.3" r="2.75" fill="#fb0d0d"/>
<rect x="342" y="368.7" width="4.8" height="4" rx="1.6" fill="none" stroke="#fb0d0d" stroke-width="1.4"/><path d="M342.4 370.6h4" stroke="#fb0d0d" stroke-width="0.7"/>
<circle cx="339.5" cy="384" r="2.75" fill="#fb0d0d"/>
<rect x="346.1" y="404.2" width="4.8" height="4" rx="1.6" fill="none" stroke="#fb0d0d" stroke-width="1.4"/><path d="M346.5 406.1h4" stroke="#fb0d0d" stroke-width="0.7"/>
<rect x="350.5" y="410.4" width="4.8" height="4" rx="1.6" fill="none" stroke="#fb0d0d" stroke-width="1.4"/><path d="M350.9 412.3h4" stroke="#fb0d0d" stroke-width="0.7"/>
<rect x="355.1" y="411.7" width="4.8" height="4" rx="1.6" fill="none" stroke="#fb0d0d" stroke-width="1.4"/><path d="M355.5 413.6h4" stroke="#fb0d0d" stroke-width="0.7"/>
<rect x="359.5" y="420.9" width="4.8" height="4" rx="1.6" fill="none" stroke="#fb0d0d" stroke-width="1.4"/><path d="M359.9 422.8h4" stroke="#fb0d0d" stroke-width="0.7"/>
<circle cx="366.5" cy="421.3" r="2.75" fill="#fb0d0d"/>
<circle cx="370.9" cy="426.7" r="2.75" fill="#fb0d0d"/>
<circle cx="375.3" cy="430.6" r="2.75" fill="#fb0d0d"/>
<circle cx="379.9" cy="436.2" r="2.75" fill="#fb0d0d"/>
<circle cx="384.3" cy="436.7" r="2.75" fill="#fb0d0d"/>
<circle cx="388.9" cy="442.7" r="2.75" fill="#fb0d0d"/>
<circle cx="393.3" cy="442.1" r="2.75" fill="#fb0d0d"/>
</g>
<text x="344" y="344.3" font-size="10.8" text-anchor="start" >τ<tspan font-size="8" dy="2">c</tspan><tspan dy="-2"> = 0.71 ps</tspan></text>
<path d="M468.5 448.5v-5.2M468.5 323.5v5.2M502.5 448.5v-5.2M502.5 323.5v5.2M535.5 448.5v-5.2M535.5 323.5v5.2M568.5 448.5v-5.2M568.5 323.5v5.2M602.5 448.5v-5.2M602.5 323.5v5.2M485.5 448.5v-2.6M485.5 323.5v2.6M518.5 448.5v-2.6M518.5 323.5v2.6M552.5 448.5v-2.6M552.5 323.5v2.6M585.5 448.5v-2.6M585.5 323.5v2.6M457 448.5h5.2M614 448.5h-5.2M457 406.5h5.2M614 406.5h-5.2M457 365.5h5.2M614 365.5h-5.2M457 323.5h5.2M614 323.5h-5.2M457 427.5h2.6M614 427.5h-2.6M457 386.5h2.6M614 386.5h-2.6M457 344.5h2.6M614 344.5h-2.6" stroke="#333" stroke-width="1" fill="none"/>
<rect x="457" y="323.5" width="157" height="125" fill="none" stroke="#333" stroke-width="1"/>
<text x="468.9" y="463.2" font-size="13.6" text-anchor="middle" >-2</text>
<text x="502.2" y="463.2" font-size="13.6" text-anchor="middle" >-1</text>
<text x="535.5" y="463.2" font-size="13.6" text-anchor="middle" >0</text>
<text x="568.8" y="463.2" font-size="13.6" text-anchor="middle" >1</text>
<text x="602.1" y="463.2" font-size="13.6" text-anchor="middle" >2</text>
<text x="454" y="451.9" font-size="13.6" text-anchor="end" >0.0</text>
<text x="454" y="410.24" font-size="13.6" text-anchor="end" >0.2</text>
<text x="454" y="368.58" font-size="13.6" text-anchor="end" >0.4</text>
<text x="454" y="326.92" font-size="13.6" text-anchor="end" >0.6</text>
<text x="536" y="482.2" font-size="13.6" text-anchor="middle" >Delay time τ (ps)</text>
<g clip-path="url(#cc457)">
<polyline points="455.58,447.87 456.25,447.81 456.91,447.75 457.58,447.69 458.24,447.62 458.91,447.54 459.58,447.46 460.24,447.37 460.91,447.28 461.57,447.18 462.24,447.07 462.91,446.95 463.57,446.83 464.24,446.7 464.9,446.55 465.57,446.4 466.24,446.24 466.9,446.07 467.57,445.88 468.23,445.69 468.9,445.48 469.57,445.26 470.23,445.02 470.9,444.77 471.56,444.51 472.23,444.23 472.9,443.93 473.56,443.61 474.23,443.28 474.89,442.93 475.56,442.56 476.23,442.17 476.89,441.76 477.56,441.32 478.22,440.87 478.89,440.39 479.56,439.88 480.22,439.36 480.89,438.8 481.55,438.22 482.22,437.62 482.89,436.98 483.55,436.32 484.22,435.63 484.88,434.91 485.55,434.16 486.22,433.38 486.88,432.56 487.55,431.72 488.21,430.84 488.88,429.94 489.55,428.99 490.21,428.02 490.88,427.01 491.54,425.97 492.21,424.89 492.88,423.78 493.54,422.64 494.21,421.46 494.87,420.25 495.54,419.01 496.21,417.73 496.87,416.43 497.54,415.09 498.2,413.71 498.87,412.31 499.54,410.88 500.2,409.42 500.87,407.93 501.53,406.42 502.2,404.87 502.87,403.31 503.53,401.72 504.2,400.11 504.86,398.48 505.53,396.84 506.2,395.17 506.86,393.5 507.53,391.81 508.19,390.11 508.86,388.4 509.53,386.68 510.19,384.97 510.86,383.25 511.52,381.53 512.19,379.81 512.86,378.11 513.52,376.41 514.19,374.72 514.85,373.05 515.52,371.39 516.19,369.75 516.85,368.14 517.52,366.55 518.18,364.99 518.85,363.46 519.52,361.96 520.18,360.5 520.85,359.08 521.51,357.7 522.18,356.37 522.85,355.08 523.51,353.84 524.18,352.65 524.84,351.52 525.51,350.44 526.18,349.43 526.84,348.47 527.51,347.58 528.17,346.75 528.84,345.98 529.51,345.29 530.17,344.66 530.84,344.1 531.5,343.62 532.17,343.21 532.84,342.87 533.5,342.61 534.17,342.42 534.83,342.3 535.5,342.27 536.17,342.3 536.83,342.42 537.5,342.61 538.16,342.87 538.83,343.21 539.5,343.62 540.16,344.1 540.83,344.66 541.49,345.29 542.16,345.98 542.83,346.75 543.49,347.58 544.16,348.47 544.82,349.43 545.49,350.44 546.16,351.52 546.82,352.65 547.49,353.84 548.15,355.08 548.82,356.37 549.49,357.7 550.15,359.08 550.82,360.5 551.48,361.96 552.15,363.46 552.82,364.99 553.48,366.55 554.15,368.14 554.81,369.75 555.48,371.39 556.15,373.05 556.81,374.72 557.48,376.41 558.14,378.11 558.81,379.81 559.48,381.53 560.14,383.25 560.81,384.97 561.47,386.68 562.14,388.4 562.81,390.11 563.47,391.81 564.14,393.5 564.8,395.17 565.47,396.84 566.14,398.48 566.8,400.11 567.47,401.72 568.13,403.31 568.8,404.87 569.47,406.42 570.13,407.93 570.8,409.42 571.46,410.88 572.13,412.31 572.8,413.71 573.46,415.09 574.13,416.43 574.79,417.73 575.46,419.01 576.13,420.25 576.79,421.46 577.46,422.64 578.12,423.78 578.79,424.89 579.46,425.97 580.12,427.01 580.79,428.02 581.45,428.99 582.12,429.94 582.79,430.84 583.45,431.72 584.12,432.56 584.78,433.38 585.45,434.16 586.12,434.91 586.78,435.63 587.45,436.32 588.11,436.98 588.78,437.62 589.45,438.22 590.11,438.8 590.78,439.36 591.44,439.88 592.11,440.39 592.78,440.87 593.44,441.32 594.11,441.76 594.77,442.17 595.44,442.56 596.11,442.93 596.77,443.28 597.44,443.61 598.1,443.93 598.77,444.23 599.44,444.51 600.1,444.77 600.77,445.02 601.43,445.26 602.1,445.48 602.77,445.69 603.43,445.88 604.1,446.07 604.76,446.24 605.43,446.4 606.1,446.55 606.76,446.7 607.43,446.83 608.09,446.95 608.76,447.07 609.43,447.18 610.09,447.28 610.76,447.37 611.42,447.46 612.09,447.54 612.76,447.62 613.42,447.69 614.09,447.75 614.75,447.81 615.42,447.87" fill="none" stroke="#fb0d0d" stroke-width="1.1"/>
<circle cx="459.1" cy="445.8" r="2.75" fill="#fb0d0d"/>
<rect x="461.3" y="439.3" width="4.8" height="4" rx="1.6" fill="none" stroke="#fb0d0d" stroke-width="1.4"/><path d="M461.7 441.2h4" stroke="#fb0d0d" stroke-width="0.7"/>
<rect x="465.9" y="439.3" width="4.8" height="4" rx="1.6" fill="none" stroke="#fb0d0d" stroke-width="1.4"/><path d="M466.3 441.2h4" stroke="#fb0d0d" stroke-width="0.7"/>
<circle cx="472.7" cy="440.1" r="2.75" fill="#fb0d0d"/>
<rect x="474.9" y="433.4" width="4.8" height="4" rx="1.6" fill="none" stroke="#fb0d0d" stroke-width="1.4"/><path d="M475.3 435.3h4" stroke="#fb0d0d" stroke-width="0.7"/>
<rect x="479.3" y="433.4" width="4.8" height="4" rx="1.6" fill="none" stroke="#fb0d0d" stroke-width="1.4"/><path d="M479.7 435.3h4" stroke="#fb0d0d" stroke-width="0.7"/>
<rect x="483.9" y="426.9" width="4.8" height="4" rx="1.6" fill="none" stroke="#fb0d0d" stroke-width="1.4"/><path d="M484.3 428.8h4" stroke="#fb0d0d" stroke-width="0.7"/>
<rect x="488.3" y="421.3" width="4.8" height="4" rx="1.6" fill="none" stroke="#fb0d0d" stroke-width="1.4"/><path d="M488.7 423.2h4" stroke="#fb0d0d" stroke-width="0.7"/>
<circle cx="495" cy="418.6" r="2.75" fill="#fb0d0d"/>
<circle cx="499.7" cy="413.4" r="2.75" fill="#fb0d0d"/>
<circle cx="504" cy="407.3" r="2.75" fill="#fb0d0d"/>
<circle cx="508.7" cy="395.4" r="2.75" fill="#fb0d0d"/>
<circle cx="513" cy="392.4" r="2.75" fill="#fb0d0d"/>
<rect x="514.7" y="375.8" width="4.8" height="4" rx="1.6" fill="none" stroke="#fb0d0d" stroke-width="1.4"/><path d="M515.1 377.7h4" stroke="#fb0d0d" stroke-width="0.7"/>
<circle cx="521.8" cy="364.1" r="2.75" fill="#fb0d0d"/>
<circle cx="526.1" cy="352" r="2.75" fill="#fb0d0d"/>
<circle cx="530.5" cy="338.4" r="2.75" fill="#fb0d0d"/>
<circle cx="535.6" cy="341.8" r="2.75" fill="#fb0d0d"/>
<circle cx="539" cy="347.4" r="2.75" fill="#fb0d0d"/>
<circle cx="544.7" cy="340.3" r="2.75" fill="#fb0d0d"/>
<rect x="546.1" y="353.3" width="4.8" height="4" rx="1.6" fill="none" stroke="#fb0d0d" stroke-width="1.4"/><path d="M546.5 355.2h4" stroke="#fb0d0d" stroke-width="0.7"/>
<circle cx="553.2" cy="364.2" r="2.75" fill="#fb0d0d"/>
<circle cx="557.8" cy="374.5" r="2.75" fill="#fb0d0d"/>
<circle cx="562.2" cy="385.6" r="2.75" fill="#fb0d0d"/>
<rect x="563.7" y="401" width="4.8" height="4" rx="1.6" fill="none" stroke="#fb0d0d" stroke-width="1.4"/><path d="M564.1 402.9h4" stroke="#fb0d0d" stroke-width="0.7"/>
<rect x="568.3" y="408.2" width="4.8" height="4" rx="1.6" fill="none" stroke="#fb0d0d" stroke-width="1.4"/><path d="M568.7 410.1h4" stroke="#fb0d0d" stroke-width="0.7"/>
<circle cx="575.3" cy="418.3" r="2.75" fill="#fb0d0d"/>
<rect x="577.3" y="424.7" width="4.8" height="4" rx="1.6" fill="none" stroke="#fb0d0d" stroke-width="1.4"/><path d="M577.7 426.6h4" stroke="#fb0d0d" stroke-width="0.7"/>
<rect x="581.7" y="428.8" width="4.8" height="4" rx="1.6" fill="none" stroke="#fb0d0d" stroke-width="1.4"/><path d="M582.1 430.7h4" stroke="#fb0d0d" stroke-width="0.7"/>
<rect x="586.3" y="434.4" width="4.8" height="4" rx="1.6" fill="none" stroke="#fb0d0d" stroke-width="1.4"/><path d="M586.7 436.3h4" stroke="#fb0d0d" stroke-width="0.7"/>
<rect x="590.7" y="437.5" width="4.8" height="4" rx="1.6" fill="none" stroke="#fb0d0d" stroke-width="1.4"/><path d="M591.1 439.4h4" stroke="#fb0d0d" stroke-width="0.7"/>
<circle cx="597.5" cy="441.5" r="2.75" fill="#fb0d0d"/>
</g>
<text x="551" y="344.3" font-size="10.8" text-anchor="start" >τ<tspan font-size="8" dy="2">c</tspan><tspan dy="-2"> = 1.06 ps</tspan></text>
<text x="0" y="0" font-size="13.5" text-anchor="middle" transform="translate(223.5 391.5) rotate(-90)"><tspan font-style="italic">g</tspan><tspan font-size="9.5" dy="-5.5">(1)</tspan><tspan dy="5.5">(τ,</tspan><tspan font-weight="bold">r̄</tspan><tspan font-size="9" dy="3">||</tspan><tspan dy="-3">)</tspan></text>
<text x="0" y="0" font-size="13.5" text-anchor="middle" transform="translate(427 391.5) rotate(-90)"><tspan font-style="italic">g</tspan><tspan font-size="9.5" dy="-5.5">(1)</tspan><tspan dy="5.5">(τ,</tspan><tspan font-weight="bold">r̄</tspan><tspan font-size="9" dy="3">||</tspan><tspan dy="-3">)</tspan></text>
</svg>
</body></html>
